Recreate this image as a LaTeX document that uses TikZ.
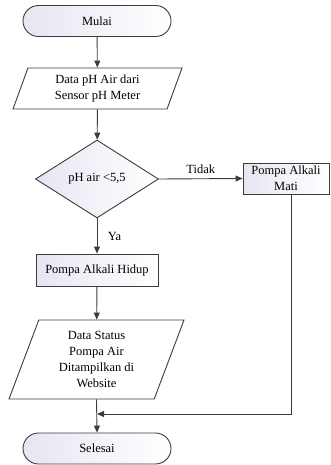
\documentclass[tikz,border=0pt]{standalone}
\usepackage{fontspec}
\setmainfont{Liberation Serif}
\usetikzlibrary{shapes.geometric,arrows.meta}
\definecolor{lav}{HTML}{E6E6F3}
\definecolor{ln}{HTML}{3C3C3C}
\tikzset{
  base/.style={draw=ln, line width=0.9pt, align=center, font=\fontsize{12.5}{16}\selectfont, inner sep=1pt},
  term/.style={base, rectangle, rounded corners=15.5pt, minimum width=148pt, minimum height=31pt, left color=lav, right color=white},
  io/.style={base, trapezium, trapezium left angle=63, trapezium right angle=117, trapezium stretches body, fill=white},
  proc/.style={base, rectangle, left color=lav, right color=white},
  dec/.style={base, diamond, minimum width=123pt, minimum height=78pt, left color=lav, right color=white, inner sep=0pt},
  arr/.style={draw=ln, line width=0.9pt, -{Triangle[length=7pt,width=6pt]}},
  lbl/.style={font=\fontsize{12.5}{14}\selectfont}
}
\begin{document}
\begin{tikzpicture}[x=1pt,y=1pt]
\useasboundingbox (0,0) rectangle (330,-465);
\node[term] (start) at (97,-21) {Mulai};
\node[io, minimum width=169pt, minimum height=41pt] (in1) at (97.5,-88.5) {Data pH Air dari\\Sensor pH Meter};
\node[dec] (dia) at (97,-179) {pH air <5,5};
\node[proc, minimum width=86pt, minimum height=31pt] (mati) at (286,-178.5) {Pompa Alkali\\Mati};
\node[proc, minimum width=122pt, minimum height=32pt] (hidup) at (97,-270) {Pompa Alkali Hidup};
\node[io, minimum width=175pt, minimum height=79pt] (in2) at (96.5,-359.5) {Data Status\\Pompa Air\\Ditampilkan di\\Website};
\node[term] (end) at (97,-448.5) {Selesai};
\coordinate (j) at (97,-414);
\coordinate (mj) at (291,-414);
\draw[arr] (start) -- (in1);
\draw[arr] (in1) -- (dia);
\draw[arr] (dia.east) -- node[lbl, above=1pt, pos=0.5] (tidak) {Tidak} (mati.west);
\draw[arr] (dia.south) -- node[lbl, right=7pt] (ya) {Ya} (hidup.north);
\draw[arr] (hidup) -- (in2);
\draw[arr] (in2.south) -- (end.north);
\draw[arr] (mati.south -| mj) -- (mj) -- (j);
\end{tikzpicture}
\end{document}
